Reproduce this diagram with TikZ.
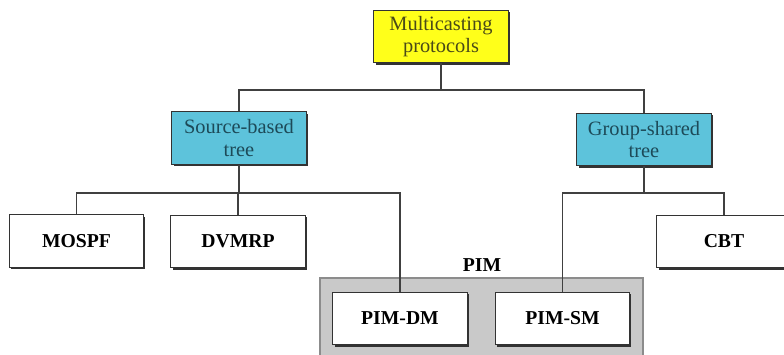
\documentclass[tikz,border=0pt]{standalone}
\usepackage{fontspec}
\setmainfont{Liberation Serif}
\usetikzlibrary{shadows}
\definecolor{topyellow}{HTML}{FFFF1A}
\definecolor{treecyan}{HTML}{5DC3DB}
\definecolor{cyantext}{HTML}{1D4A58}
\definecolor{yellowtext}{HTML}{4A4A18}
\definecolor{pimgray}{HTML}{C9C9C9}
\tikzstyle{protobox}=[
    draw=black!80,line width=0.7pt,fill=white,
    minimum width=3.35cm,minimum height=1.32cm,
    align=center,font=\fontsize{14}{16}\selectfont\bfseries,
    drop shadow={shadow xshift=1.4pt,shadow yshift=-1.4pt,fill=black!80,opacity=1}
    ]
\tikzstyle{treebox}=[
    protobox,fill=treecyan,text=cyantext,
    font=\fontsize{14.5}{16}\selectfont
    ]
\tikzstyle{link}=[draw=black!75,line width=1.1pt]
\begin{document}
\begin{tikzpicture}[x=0.025cm,y=-0.025cm]
\useasboundingbox (0,0) rectangle (784,355);
%PIM group
\draw[fill=pimgray,draw=black!45,line width=0.8pt] (320,278) rectangle (643,365);
\node (pim) at (482,265) {\fontsize{14}{16}\selectfont\bfseries PIM};
%root and trees
\node[protobox,fill=topyellow,text=yellowtext,font=\fontsize{14.5}{16}\selectfont] (root) at (441,36.5) {Multicasting\\protocols};
\node[treebox] (source) at (239,138) {Source-based\\tree};
\node[treebox] (group) at (644,139.5) {Group-shared\\tree};
%protocols
\node[protobox] (mospf) at (76.5,241) {MOSPF};
\node[protobox] (dvmrp) at (238,241.5) {DVMRP};
\node[protobox] (cbt) at (724,241.5) {CBT};
\node[protobox] (pimdm) at (400,318.5) {PIM-DM};
\node[protobox] (pimsm) at (562.5,318.5) {PIM-SM};
%connectors
\coordinate (bus1) at (441,90);
\coordinate (bus2) at (239,193);
\coordinate (bus3) at (644,193);
\draw[link] (root.south) -- (bus1);
\draw[link] (source.north) |- (bus1) -| (group.north);
\draw[link] (source.south) -- (bus2);
\draw[link] (mospf.north) |- (bus2) -| (pimdm.north);
\draw[link] (dvmrp.north) -- (dvmrp.north |- bus2);
\draw[link] (group.south) -- (bus3);
\draw[link] (pimsm.north) |- (bus3) -| (cbt.north);
\end{tikzpicture}
\end{document}
